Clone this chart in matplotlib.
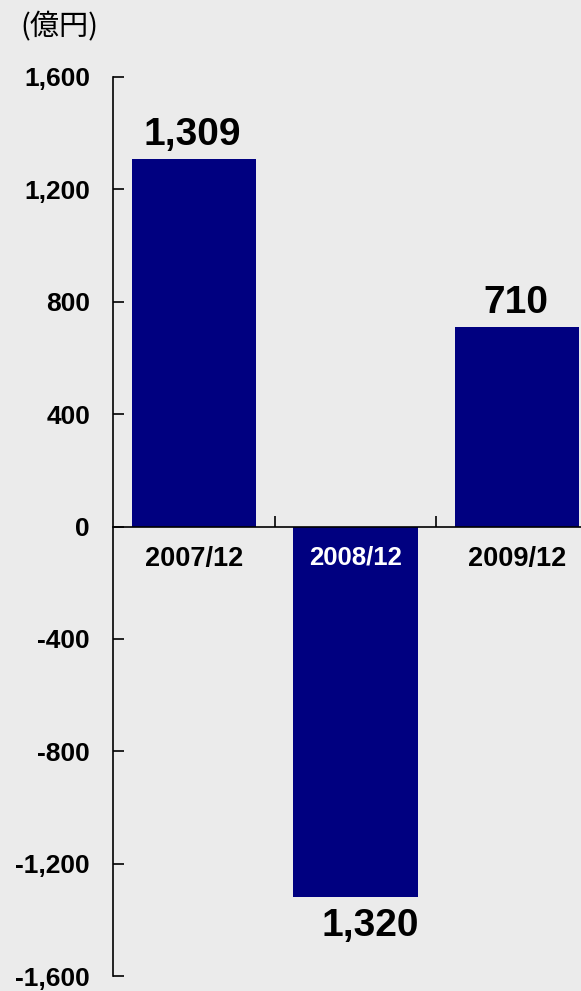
import matplotlib
matplotlib.use("Agg")
import matplotlib.pyplot as plt
from matplotlib.ticker import FixedLocator, FuncFormatter

# data
periods = ["2007/12", "2008/12", "2009/12"]
values = [1309, -1320, 710]
shown_labels = ["1,309", "1,320", "710"]
y_ticks = [-1600, -1200, -800, -400, 0, 400, 800, 1200, 1600]

bg = "#EBEBEB"
navy = "#000080"
W, H = 581, 991

plt.rcParams["font.family"] = ["Liberation Sans", "DejaVu Sans"]

fig = plt.figure(figsize=(W / 100, H / 100), dpi=100, facecolor=bg)
# axes runs a bit past the right edge like the original
ax = fig.add_axes([113 / W, 15 / H, (598 - 113) / W, 899 / H], facecolor=bg)
ax.set_axisbelow(False)

xs = [i + 0.5 for i in range(len(values))]
ax.bar(xs, values, width=0.77, color=navy, zorder=2)

ax.set_xlim(0, 3)
ax.set_ylim(-1600, 1600)

# spines
for s in ["top", "right"]:
    ax.spines[s].set_visible(False)
ax.spines["left"].set_linewidth(1.2)
ax.spines["bottom"].set_position(("data", 0))
ax.spines["bottom"].set_linewidth(1.2)
ax.spines["bottom"].set_zorder(3)

# y ticks
ax.set_yticks(y_ticks)
ax.yaxis.set_major_formatter(FuncFormatter(lambda v, p: f"{int(v):,}"))
ax.tick_params(axis="y", direction="in", length=8, width=1.2, pad=16.5,
               labelsize=19)
for t in ax.get_yticklabels():
    t.set_fontweight("bold")

# x: boundary ticks pointing up, labels at category centres
ax.xaxis.set_major_locator(FixedLocator([1, 2]))
ax.xaxis.set_major_formatter(FuncFormatter(lambda v, p: ""))
ax.xaxis.set_minor_locator(FixedLocator(xs))
ax.set_xticklabels(periods, minor=True)
ax.tick_params(axis="x", which="major", direction="in", length=8, width=1.2)
ax.tick_params(axis="x", which="minor", length=0, pad=14, labelsize=19.5)
for i, t in enumerate(ax.xaxis.get_minorticklabels()):
    t.set_fontweight("bold")
    if values[i] < 0:
        # the label sitting on the negative bar is white and a touch smaller
        t.set_color("white")
        t.set_fontsize(18.5)

# value labels
for x, v, lab in zip(xs, values, shown_labels):
    if v >= 0:
        ax.annotate(lab, (x - 0.01, v), xytext=(0, 10), textcoords="offset points",
                    ha="center", va="baseline", fontsize=28, fontweight="bold")
    else:
        ax.annotate(lab, (x + 0.09, v), xytext=(0, -8), textcoords="offset points",
                    ha="center", va="top", fontsize=28, fontweight="bold")

fig.text(20 / W, 1 - 27 / H, "(億円)", ha="left", va="center", fontsize=21,
         family=["Noto Sans CJK JP", "DejaVu Sans"])

fig.savefig("out.png", dpi=100, facecolor=bg)
